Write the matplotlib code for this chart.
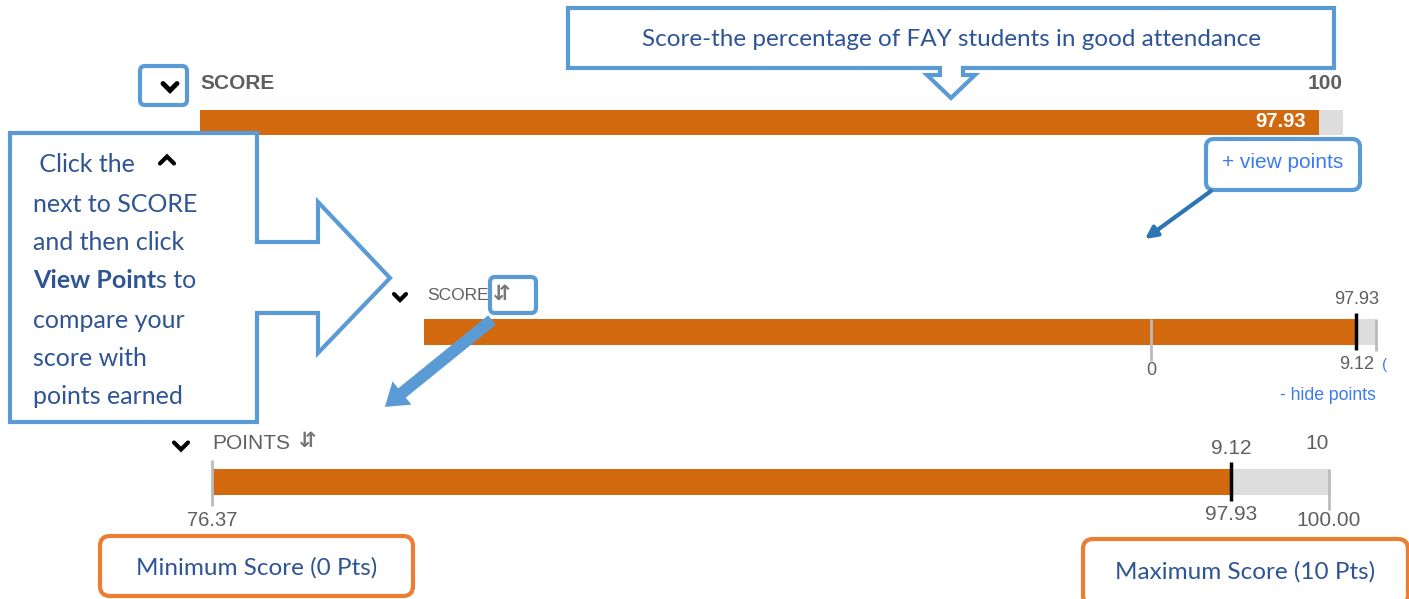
import matplotlib
matplotlib.use("Agg")
import matplotlib.pyplot as plt
from matplotlib.patches import Polygon, FancyBboxPatch, FancyArrow

# values shown in the screenshot
score = 97.93
points = 9.12
max_points = 10
min_score = 76.37
max_score = 100.00
score_range = [0, 100]

W, H = 1409, 599
ORANGE = "#D2690E"
GRAY = "#DDDDDD"
LABEL = "#5F5F5F"
BLUE = "#5B9BD5"
DARK_BLUE = "#2F5496"
LINK = "#3B7BF0"
UI_FONT = "Liberation Sans"
NOTE_FONT = "Lato"

fig = plt.figure(figsize=(W / 100, H / 100), dpi=100)
fig.patch.set_facecolor("white")


def px_axes(x0, y0, x1, y1, xlim):
    # axes placed in pixel box, x in data units, y in figure pixels (downwards)
    ax = fig.add_axes([x0 / W, 1 - y1 / H, (x1 - x0) / W, (y1 - y0) / H])
    ax.set_xlim(*xlim)
    ax.set_ylim(y1, y0)
    ax.axis("off")
    return ax


def bar(ax, y0, y1, lo, hi, value):
    yc = (y0 + y1) / 2
    ax.barh(yc, hi - lo, left=lo, height=y1 - y0, color=GRAY)
    ax.barh(yc, value - lo, left=lo, height=y1 - y0, color=ORANGE)


def txt(ax, x, y, s, size=12, color=LABEL, weight="normal", ha="center", family=UI_FONT, **kw):
    return ax.text(x, y, s, fontsize=size, color=color, fontweight=weight, ha=ha,
                   va="center", family=family, clip_on=False, **kw)


# ---- bar 1 : score on 0-100 scale
ax1 = px_axes(200, 110, 1343, 135, score_range)
bar(ax1, 110, 135, score_range[0], score_range[1], score)
txt(ax1, score_range[0], 84, "SCORE", size=15, weight="bold", ha="left")
txt(ax1, score_range[1], 84, "%d" % score_range[1], size=15, weight="bold", ha="right")
ax1.annotate("%.2f" % score, xy=(score, 122), xytext=(-10, 0), textcoords="offset points",
             ha="right", va="center", fontsize=14.5, fontweight="bold", color="white",
             family=UI_FONT)

# ---- bar 2 : score with points markers
ax2 = px_axes(424, 319, 1376, 345, score_range)
bar(ax2, 319, 345, score_range[0], score_range[1], score)
ax2.vlines(min_score, 319, 361, color="#BBBBBB", lw=2, clip_on=False)
ax2.vlines(score_range[1], 319, 351, color="#BBBBBB", lw=2, clip_on=False)
ax2.vlines(score, 313, 350, color="black", lw=2.5, clip_on=False)
txt(ax2, score, 299, "%.2f" % score, size=13)
txt(ax2, score, 364, "%.2f" % points, size=13)
txt(ax2, min_score, 370, "0", size=13)
txt(ax2, score - 3, 395, "- hide points", size=12.7, color=LINK)
txt(ax2, score_range[1] + 0.9, 365, "(", size=11, color=LINK)
txt(ax2, 0.3, 296, "SCORE", size=12.5, ha="left")

# ---- bar 3 : points scale
ax3 = px_axes(212, 469, 1329, 495, [min_score, max_score])
bar(ax3, 469, 495, min_score, max_score, score)
ax3.vlines(min_score, 460, 506, color="#BBBBBB", lw=2, clip_on=False)
ax3.vlines(max_score, 469, 510, color="#BBBBBB", lw=2, clip_on=False)
ax3.vlines(score, 462, 501, color="black", lw=2.5, clip_on=False)
txt(ax3, score, 448, "%.2f" % points, size=15)
txt(ax3, max_score, 443, "%d" % max_points, size=15, ha="right")
txt(ax3, min_score, 521, "%.2f" % min_score, size=14.5)
txt(ax3, score, 514, "%.2f" % score, size=15)
txt(ax3, max_score, 521, "%.2f" % max_score, size=15)
txt(ax3, min_score, 443, "POINTS", size=15, ha="left")

# ---- overlay with callouts (pixel coordinates)
ov = fig.add_axes([0, 0, 1, 1])
ov.set_xlim(0, W)
ov.set_ylim(H, 0)
ov.axis("off")


def chevron(x, y, up=False, s=7, lw=3):
    d = -s if up else s
    ov.plot([x - s, x, x + s], [y - d / 2, y + d / 2, y - d / 2], color="black",
            lw=lw, solid_capstyle="round", solid_joinstyle="miter", clip_on=False)


# sort icons and chevrons
for x, y in [(502, 294), (308, 441)]:
    txt(ov, x, y, "\u21F5", size=15, weight="bold", family="DejaVu Sans", color="#777777")
chevron(400, 297, s=6)
chevron(181, 446, s=7)

top_call = [(568, 8), (1334, 8), (1334, 68), (963, 68), (963, 75), (975, 75), (951, 98),
            (927, 75), (940, 75), (940, 68), (568, 68)]
ov.add_patch(Polygon(top_call, closed=True, fc="white", ec=BLUE, lw=3, joinstyle="miter"))
txt(ov, 951, 40, "Score-the percentage of FAY students in good attendance", size=17.5,
    color=DARK_BLUE, family=NOTE_FONT)

left_call = [(10, 133), (257, 133), (257, 242), (318, 242), (318, 202), (390, 278), (318, 353),
             (318, 313), (257, 313), (257, 422), (10, 422)]
ov.add_patch(Polygon(left_call, closed=True, fc="white", ec=BLUE, lw=3, joinstyle="miter"))

lines = [" Click the", "next to SCORE", "and then click", None, "compare your",
         "score with", "points earned"]
ys = [165, 204, 243, 281, 320, 359, 397]
for s, y in zip(lines, ys):
    if s:
        txt(ov, 33, y, s, size=18, color=DARK_BLUE, ha="left", family=NOTE_FONT)
bold = txt(ov, 33, ys[3], "View Point", size=18, color=DARK_BLUE, ha="left",
           family=NOTE_FONT, weight="bold")
fig.canvas.draw()
bb = bold.get_window_extent()
txt(ov, bb.x1, ys[3], "s to", size=18, color=DARK_BLUE, ha="left", family=NOTE_FONT)
chevron(167, 160, up=True, s=7)

# chevron box at top
ov.add_patch(FancyBboxPatch((140, 66), 47, 39, boxstyle="round,pad=0,rounding_size=5",
                            fc="none", ec=BLUE, lw=3))
chevron(170, 87, s=7, lw=3.5)

# sort icon box
ov.add_patch(FancyBboxPatch((490, 277), 46, 36, boxstyle="round,pad=0,rounding_size=5",
                            fc="none", ec=BLUE, lw=3))

# view points box
ov.add_patch(FancyBboxPatch((1206, 139), 154, 51, boxstyle="round,pad=0,rounding_size=8",
                            fc="white", ec=BLUE, lw=3))
txt(ov, 1283, 162, "+ view points", size=15, color=LINK)
ov.annotate("", xy=(1145, 239), xytext=(1211, 191),
            arrowprops=dict(arrowstyle="-|>,head_length=0.7,head_width=0.35", lw=3,
                            color="#2E75B6", shrinkA=0, shrinkB=0))

# big arrow to the points bar
ov.add_patch(FancyArrow(492, 320, -90, 73, width=12, head_width=30, head_length=22,
                        length_includes_head=False, color=BLUE, lw=0))

# orange notes
ov.add_patch(FancyBboxPatch((100, 536), 313, 60, boxstyle="round,pad=0,rounding_size=10",
                            fc="white", ec="#ED7D31", lw=3))
txt(ov, 257, 568, "Minimum Score (0 Pts)", size=17.5, color=DARK_BLUE, family=NOTE_FONT)
ov.add_patch(FancyBboxPatch((1083, 539), 325, 66, boxstyle="round,pad=0,rounding_size=10",
                            fc="white", ec="#ED7D31", lw=3))
txt(ov, 1245, 572, "Maximum Score (10 Pts)", size=17.5, color=DARK_BLUE, family=NOTE_FONT)

fig.savefig("out.png", dpi=100)
